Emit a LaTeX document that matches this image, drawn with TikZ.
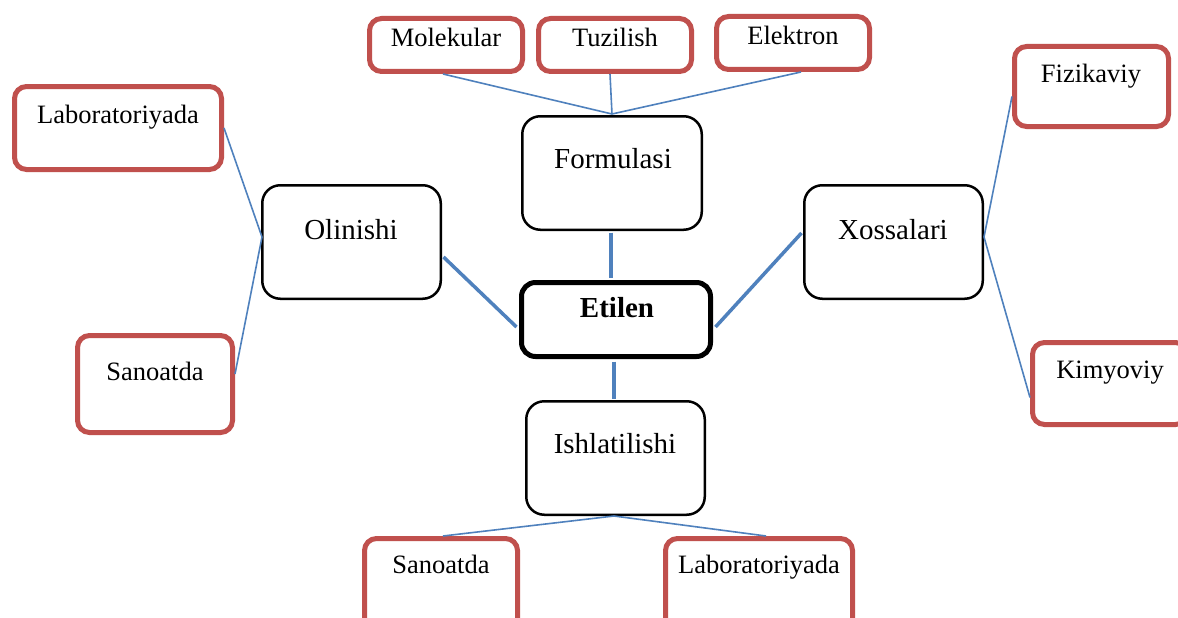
\documentclass[tikz,border=0pt]{standalone}
\usepackage{fontspec}
\setmainfont{Liberation Serif}
\definecolor{boxred}{HTML}{C0504D}
\definecolor{linkblue}{HTML}{4F81BD}
\begin{document}
\begin{tikzpicture}[x=1pt,y=-1pt,
  redbox/.style={draw=boxred, line width=5pt, rounded corners=12pt, fill=white, inner sep=0pt},
  blackbox/.style={draw=black, line width=2.5pt, rounded corners=18pt, fill=white, inner sep=0pt},
  mainbox/.style={draw=black, line width=5pt, rounded corners=14pt, fill=white, inner sep=0pt},
  bigtxt/.style={anchor=base, inner sep=0pt, font=\fontsize{29}{34}\selectfont},
  smalltxt/.style={anchor=base, inner sep=0pt, font=\fontsize{26.5}{31}\selectfont},
  thin link/.style={draw=linkblue, line width=1.6pt},
  thick link/.style={draw=linkblue, line width=3.5pt}]
\useasboundingbox (0,0) rectangle (1178,618);
\clip (0,0) rectangle (1178,618);
\fill[white] (0,0) rectangle (1178,618);

\coordinate (ftop) at (612,114);
\coordinate (omeet) at (262,237);
\coordinate (xmeet) at (984,237);
\coordinate (imeet) at (614,516);

% boxes
\node[redbox, minimum width=153pt, minimum height=53pt] (mol) at (446,45) {};
\node[redbox, minimum width=153pt, minimum height=53pt] (tuz) at (615,45) {};
\node[redbox, minimum width=153pt, minimum height=53pt] (ele) at (793,43) {};
\node[blackbox, minimum width=179.5pt, minimum height=113.5pt] (form) at (612,173) {};
\node[redbox, minimum width=207pt, minimum height=83pt] (labl) at (118,128) {};
\node[blackbox, minimum width=178.5pt, minimum height=113.5pt] (olin) at (351.5,242) {};
\node[redbox, minimum width=155pt, minimum height=97pt] (sanl) at (155,384) {};
\node[mainbox, minimum width=189pt, minimum height=74pt] (eti) at (616,319.5) {};
\node[blackbox, minimum width=178.5pt, minimum height=113.5pt] (xos) at (893.5,242) {};
\node[redbox, minimum width=154pt, minimum height=80pt] (fiz) at (1091.5,86.5) {};
\node[redbox, minimum width=155pt, minimum height=82pt] (kim) at (1110,383.5) {};
\node[blackbox, minimum width=178.5pt, minimum height=113.5pt] (ish) at (615.5,458) {};
\node[redbox, minimum width=153pt, minimum height=99pt] (sanb) at (441,588) {};
\node[redbox, minimum width=187pt, minimum height=99pt] (labb) at (759,588) {};

% texts
\node[smalltxt] (tmol) at (446,47) {Molekular};
\node[smalltxt] (ttuz) at (615,47) {Tuzilish};
\node[smalltxt] (tele) at (793,45) {Elektron};
\node[bigtxt] (tform) at (613,168) {Formulasi};
\node[smalltxt] (tlabl) at (118,123) {Laboratoriyada};
\node[bigtxt] (tolin) at (351,239) {Olinishi};
\node[smalltxt] (tsanl) at (155,380) {Sanoatda};
\node[bigtxt, font=\fontsize{29}{34}\selectfont\bfseries] (teti) at (617,317) {Etilen};
\node[bigtxt] (txos) at (893,239) {Xossalari};
\node[smalltxt] (tfiz) at (1091,82) {Fizikaviy};
\node[smalltxt] (tkim) at (1110,378) {Kimyoviy};
\node[bigtxt] (tish) at (615,453) {Ishlatilishi};
\node[smalltxt] (tsanb) at (441,573) {Sanoatda};
\node[smalltxt] (tlabb) at (759,573) {Laboratoriyada};

% thin connectors
\draw[thin link] ([xshift=-3pt]mol.south) -- (ftop);
\draw[thin link] ([xshift=-5pt]tuz.south) -- (ftop);
\draw[thin link] ([xshift=8pt]ele.south) -- (ftop);
\draw[thin link] (labl.east) -- (omeet);
\draw[thin link] ([yshift=10pt]sanl.east) -- (omeet);
\draw[thin link] ([yshift=-10pt]fiz.west) -- (xmeet);
\draw[thin link] ([yshift=-14pt]kim.west) -- (xmeet);
\draw[thin link] ([xshift=2pt]sanb.north) -- (imeet);
\draw[thin link] ([xshift=7pt]labb.north) -- (imeet);

% thick connectors
\draw[thick link] ([xshift=-1pt,yshift=-1.5pt]form.south) -- ([xshift=-5pt,yshift=2.5pt]eti.north);
\draw[thick link] ([xshift=-2pt,yshift=-2.5pt]eti.south) -- ([xshift=-1.5pt,yshift=1.5pt]ish.north);
\draw[thick link] ([xshift=1.5pt,yshift=-15pt]olin.east) -- ([xshift=-2.5pt,yshift=-7.5pt]eti.west);
\draw[thick link] ([xshift=-1.5pt,yshift=9pt]xos.west) -- ([xshift=2.5pt,yshift=-7.5pt]eti.east);
\end{tikzpicture}
\end{document}
